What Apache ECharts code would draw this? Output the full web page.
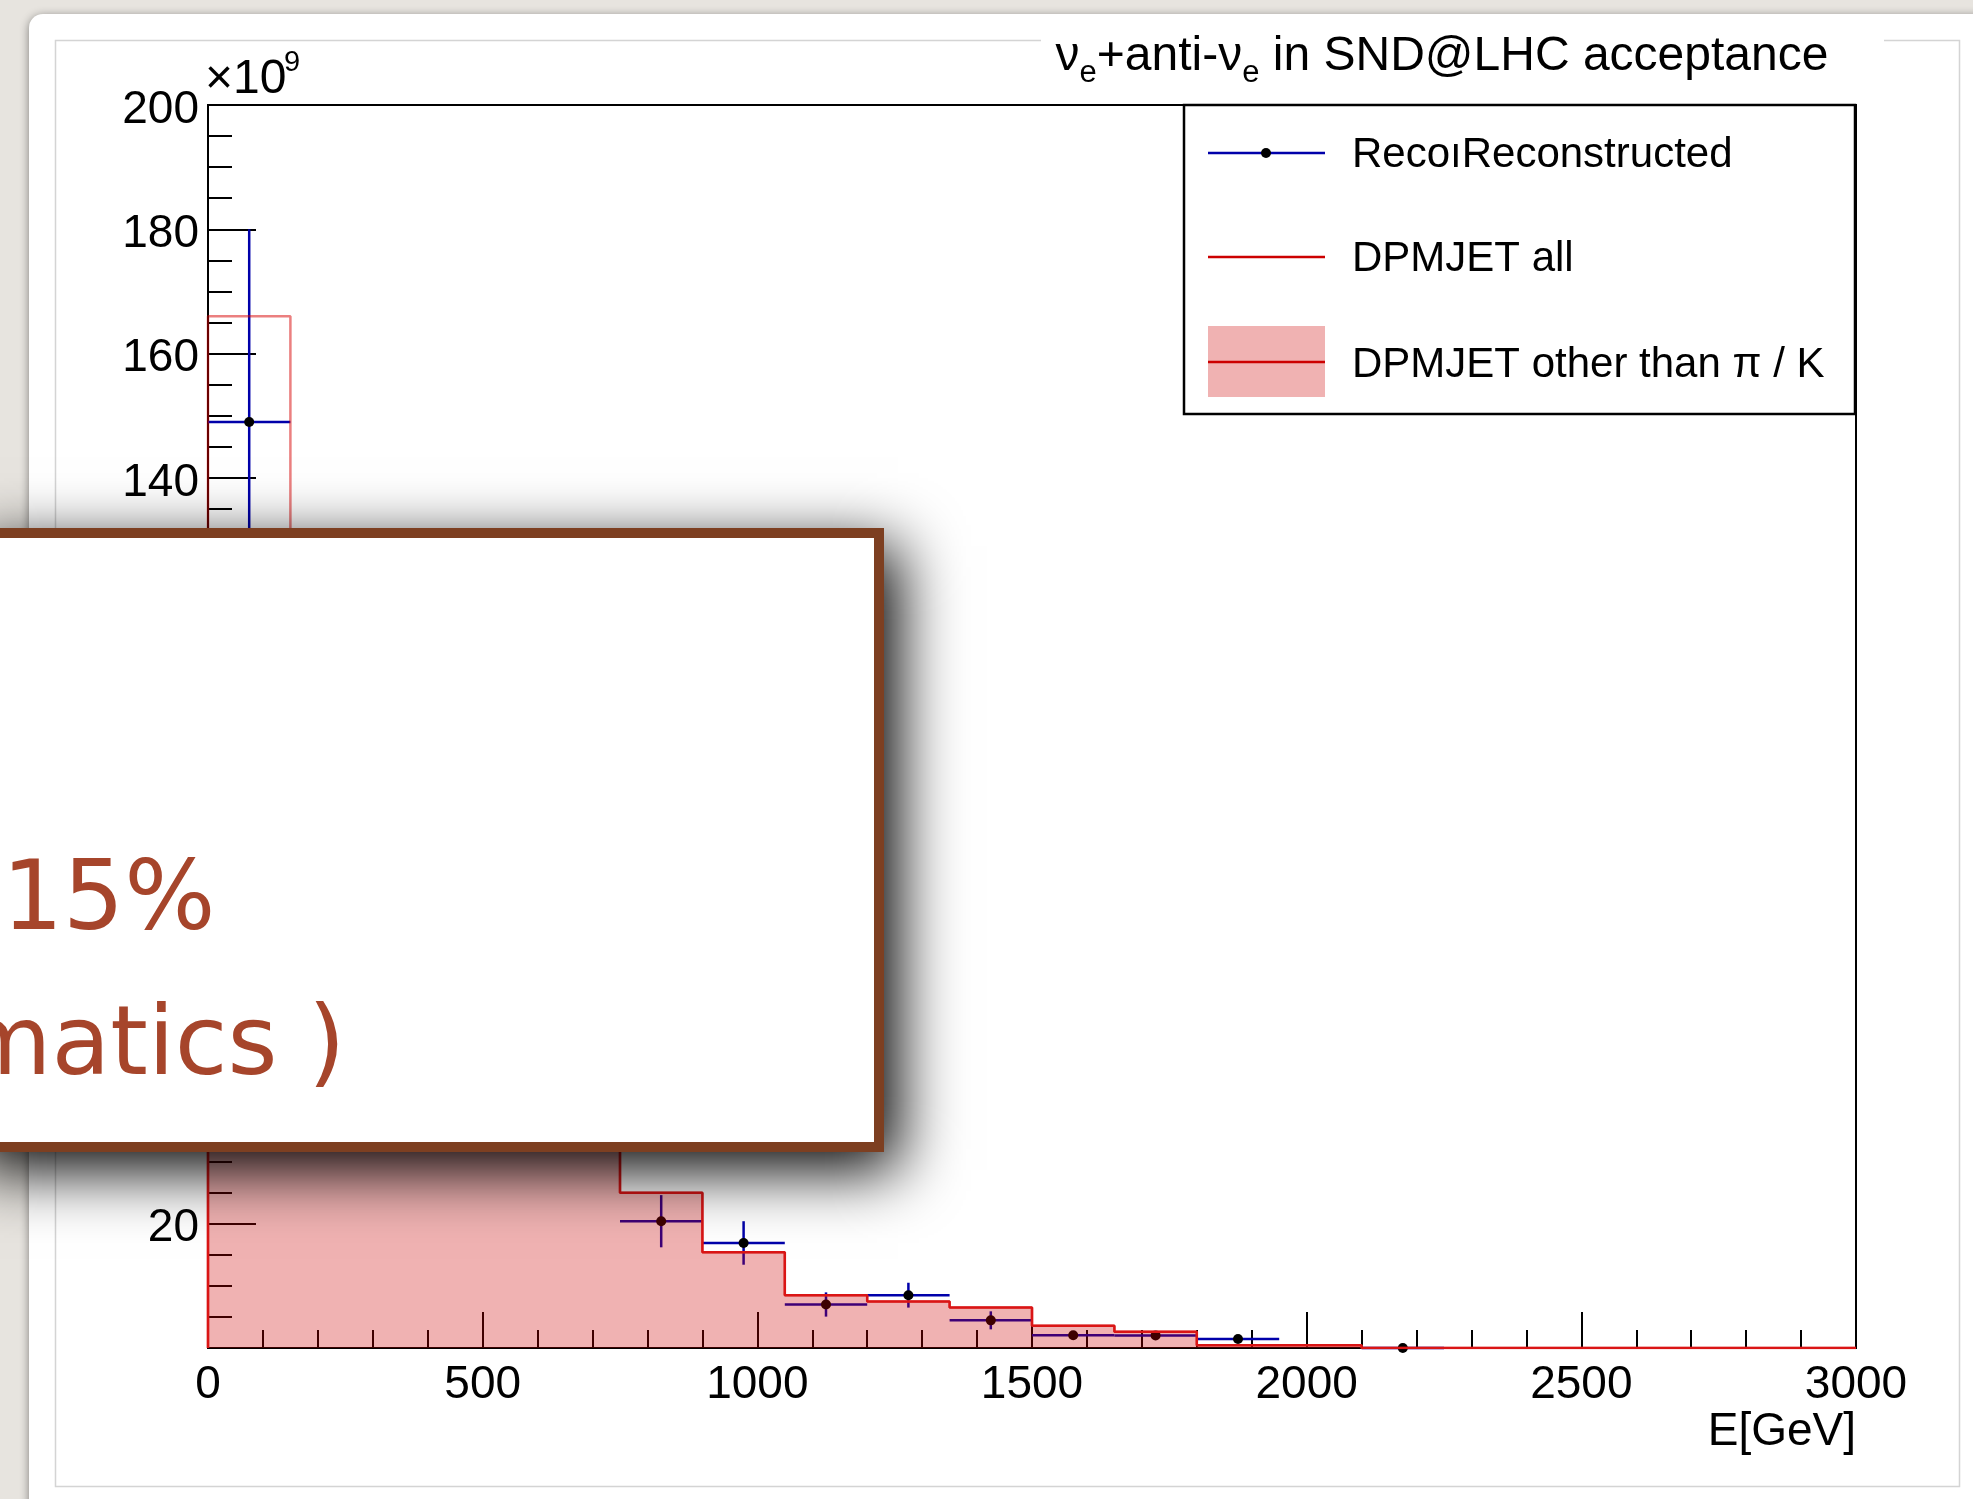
<!DOCTYPE html>
<html>
<head>
<meta charset="utf-8">
<title>ve+anti-ve in SND@LHC acceptance</title>
<script src="https://cdn.jsdelivr.net/npm/echarts@6/dist/echarts.min.js"></script>
<style>
  html, body { margin: 0; padding: 0; background: #e7e4df; }
  #chart { width: 1973px; height: 1499px; }
</style>
</head>
<body>
<div id="chart"></div>
<script>
// bins of 150 GeV, values in units of 1e9
const binLo = [0, 150, 300, 450, 600, 750, 900, 1050, 1200, 1350, 1500, 1650, 1800, 1950, 2100, 2250, 2400, 2550, 2700, 2850]
const binWidth = 150
const dpmjetAll = [166, 128, 95, 66, 45, 25, 15.4, 8.5, 7.5, 6.5, 3.6, 2.6, 0.45, 0.45, 0, 0, 0, 0, 0, 0]
const dpmjetOther = [118, 112, 88, 62, 43, 25, 15.4, 8.5, 7.5, 6.5, 3.6, 2.6, 0.45, 0.45, 0, 0, 0, 0, 0, 0]
const recoValues = [149, 108, 85, 58, 42, 20.4, 16.9, 7.0, 8.5, 4.45, 2.05, 2.0, 1.45, null, 0, null, null, null, null, null]
const recoErrors = [31, 18, 15, 11, 7, 4.2, 3.5, 1.95, 2.0, 1.45, 0.5, 0.5, 0.4, null, 0, null, null, null, null, null]

const FONT = '"Liberation Sans", Arial, Helvetica, sans-serif'
const SLIDE_FONT = '"DejaVu Sans", Verdana, sans-serif'

function stepPoints(values) {
  const pts = [[0, 0]]
  binLo.forEach((lo, i) => {
    pts.push([lo, values[i]])
    pts.push([lo + binWidth, values[i]])
  })
  return pts
}

const recoData = []
binLo.forEach((lo, i) => {
  if (recoValues[i] === null) return
  recoData.push([lo + binWidth / 2, recoValues[i], binWidth / 2, recoErrors[i]])
})

function renderReco(params, api) {
  const x = api.value(0)
  const y = api.value(1)
  const hw = api.value(2)
  const e = api.value(3)
  const l = api.coord([x - hw, y])
  const r = api.coord([x + hw, y])
  const t = api.coord([x, y + e])
  const b = api.coord([x, y - e])
  const c = api.coord([x, y])
  const blue = { stroke: '#0000aa', lineWidth: 2.5 }
  return {
    type: 'group',
    children: [
      { type: 'line', shape: { x1: l[0], y1: l[1], x2: r[0], y2: r[1] }, style: blue },
      { type: 'line', shape: { x1: t[0], y1: t[1], x2: b[0], y2: b[1] }, style: blue },
      { type: 'circle', shape: { cx: c[0], cy: c[1], r: 5 }, style: { fill: '#000' } }
    ]
  }
}

const chart = echarts.init(document.getElementById('chart'))

const axisStyle = { color: '#000', width: 2 }

const option = {
  animation: false,
  backgroundColor: '#e7e4df',
  grid: {
    left: 208,
    top: 105,
    width: 1648,
    height: 1243,
    containLabel: false,
    outerBoundsMode: 'none',
    show: true,
    borderColor: '#000',
    borderWidth: 2,
    backgroundColor: 'transparent'
  },
  xAxis: {
    type: 'value',
    min: 0,
    max: 3000,
    interval: 500,
    axisLine: { show: true, onZero: false, lineStyle: axisStyle },
    axisTick: { show: true, inside: true, length: 36, lineStyle: axisStyle },
    minorTick: { show: true, splitNumber: 5, length: 18, lineStyle: axisStyle },
    splitLine: { show: false },
    axisLabel: {
      color: '#000',
      fontSize: 46,
      fontFamily: FONT,
      margin: 14,
      showMinLabel: true,
      showMaxLabel: true,
      formatter: v => String(v)
    }
  },
  yAxis: {
    type: 'value',
    min: 0,
    max: 200,
    interval: 20,
    axisLine: { show: true, lineStyle: axisStyle },
    axisTick: { show: true, inside: true, length: 48, lineStyle: axisStyle },
    minorTick: { show: true, splitNumber: 4, length: 24, lineStyle: axisStyle },
    splitLine: { show: false },
    axisLabel: {
      color: '#000',
      fontSize: 46,
      fontFamily: FONT,
      margin: 9,
      formatter: v => (v === 0 ? '' : '{a|' + v + '}'),
      rich: {
        a: { fontSize: 46, fontFamily: FONT, color: '#000', padding: [10, 0, 0, 0] }
      }
    }
  },
  series: [
    {
      name: 'RecoıReconstructed',
      type: 'custom',
      z: 2,
      data: recoData,
      encode: { x: 0, y: 1 },
      renderItem: renderReco
    },
    {
      name: 'DPMJET other than π / K',
      type: 'line',
      z: 3,
      data: stepPoints(dpmjetOther),
      symbol: 'none',
      lineStyle: { color: '#dc2a2a', width: 2.5 },
      areaStyle: { color: 'rgba(205,0,0,0.3)', opacity: 1 }
    },
    {
      name: 'DPMJET all',
      type: 'line',
      z: 4,
      data: stepPoints(dpmjetAll),
      symbol: 'none',
      lineStyle: { color: 'rgba(215,0,0,0.5)', width: 2.5 }
    }
  ],
  graphic: [
    // slide panel + canvas frame
    {
      type: 'rect', z: -10,
      shape: { x: 29, y: 14, width: 2100, height: 1600, r: 14 },
      style: { fill: '#fff', shadowBlur: 10, shadowColor: 'rgba(0,0,0,0.45)', shadowOffsetY: 2 }
    },
    {
      type: 'rect', z: -9,
      shape: { x: 55.5, y: 40.5, width: 1904, height: 1446 },
      style: { fill: 'none', stroke: '#d4d4d4', lineWidth: 1.5 }
    },
    // title
    {
      type: 'rect', z: 5,
      shape: { x: 1041, y: 16, width: 843, height: 84 },
      style: { fill: '#fff' }
    },
    {
      type: 'text', z: 6, x: 1442, y: 61,
      style: {
        text: '{m|ν}{s|e}{m|+anti-ν}{s|e}{m| in SND@LHC acceptance}',
        align: 'center',
        verticalAlign: 'middle',
        rich: {
          m: { fontSize: 48, fontFamily: FONT, fill: '#000', lineHeight: 56, verticalAlign: 'top' },
          s: { fontSize: 31, fontFamily: FONT, fill: '#000', lineHeight: 31, padding: [25, 0, 0, 0], verticalAlign: 'top' }
        }
      }
    },
    // exponent
    {
      type: 'text', z: 6, x: 205, y: 80,
      style: { text: '×10', fontSize: 48, fontFamily: FONT, fill: '#000', verticalAlign: 'middle' }
    },
    {
      type: 'text', z: 6, x: 284, y: 63,
      style: { text: '9', fontSize: 29, fontFamily: FONT, fill: '#000', verticalAlign: 'middle' }
    },
    {
      type: 'text', z: 6, x: 1856, y: 1432,
      style: { text: 'E[GeV]', fontSize: 46, fontFamily: FONT, fill: '#000', align: 'right', verticalAlign: 'middle' }
    },
    // legend
    {
      type: 'group', z: 6,
      children: [
        { type: 'rect', z: 6, shape: { x: 1184, y: 105, width: 671, height: 309 }, style: { fill: '#fff', stroke: '#000', lineWidth: 2.5 } },
        { type: 'line', z: 7, shape: { x1: 1208, y1: 153, x2: 1325, y2: 153 }, style: { stroke: '#0000aa', lineWidth: 2.5 } },
        { type: 'circle', z: 7, shape: { cx: 1266, cy: 153, r: 5 }, style: { fill: '#000' } },
        { type: 'text', z: 7, x: 1352, y: 155, style: { text: 'RecoıReconstructed', fontSize: 42, fontFamily: FONT, fill: '#000', verticalAlign: 'middle' } },
        { type: 'line', z: 7, shape: { x1: 1208, y1: 257, x2: 1325, y2: 257 }, style: { stroke: '#cc0000', lineWidth: 2.5 } },
        { type: 'text', z: 7, x: 1352, y: 259, style: { text: 'DPMJET all', fontSize: 42, fontFamily: FONT, fill: '#000', verticalAlign: 'middle' } },
        { type: 'rect', z: 7, shape: { x: 1208, y: 326, width: 117, height: 71 }, style: { fill: 'rgba(205,0,0,0.3)' } },
        { type: 'line', z: 8, shape: { x1: 1208, y1: 362, x2: 1325, y2: 362 }, style: { stroke: '#cc0000', lineWidth: 2.5 } },
        { type: 'text', z: 7, x: 1352, y: 365, style: { text: 'DPMJET other than π / K', fontSize: 42, fontFamily: FONT, fill: '#000', verticalAlign: 'middle' } }
      ]
    },
    // slide overlay box: shadow caster, then the bordered box itself
    {
      type: 'rect', z: 100,
      shape: { x: -40, y: 528, width: 924, height: 624 },
      style: {
        fill: '#fff',
        shadowBlur: 60,
        shadowOffsetX: 14,
        shadowOffsetY: 18,
        shadowColor: 'rgba(0,0,0,1)'
      }
    },
    {
      type: 'rect', z: 101,
      shape: { x: -40, y: 533, width: 919, height: 614 },
      style: { fill: '#fff', stroke: '#7d3f21', lineWidth: 10 }
    },
    {
      type: 'text', z: 102, x: 2, y: 904,
      style: { text: '15%', fontSize: 96, fontFamily: SLIDE_FONT, fill: '#a6452b', verticalAlign: 'middle' }
    },
    {
      type: 'text', z: 102, x: -42, y: 1049,
      style: { text: 'matics )', fontSize: 96, fontFamily: SLIDE_FONT, fill: '#a6452b', verticalAlign: 'middle' }
    }
  ]
}

chart.setOption(option)
window.addEventListener('resize', function () {
  chart.resize()
})
</script>
</body>
</html>
